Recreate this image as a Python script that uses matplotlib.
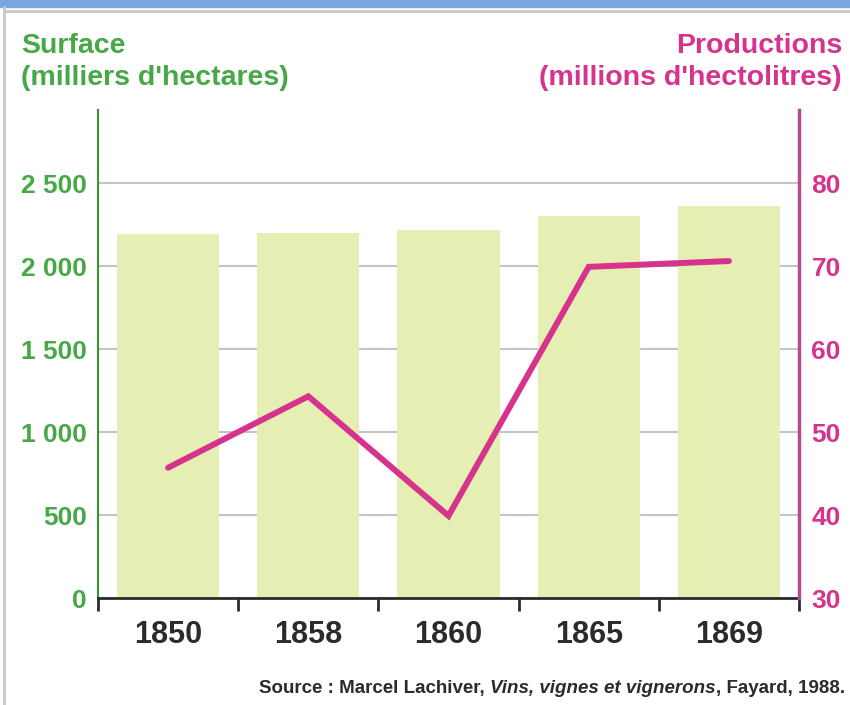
import matplotlib
matplotlib.use("Agg")
import matplotlib.pyplot as plt
from matplotlib.patches import Rectangle
from matplotlib.lines import Line2D

# === Data ===
years = ['1850', '1858', '1860', '1865', '1869']
surface = [2190, 2200, 2220, 2300, 2360]          # milliers d'hectares
production = [45.7, 54.3, 39.9, 69.9, 70.6]        # millions d'hectolitres

left_ticks = [0, 500, 1000, 1500, 2000, 2500]
left_labels = ['0', '500', '1 000', '1 500', '2 000', '2 500']
right_ticks = [30, 40, 50, 60, 70, 80]
right_labels = ['30', '40', '50', '60', '70', '80']

# === Colours ===
GREEN = '#47a846'
GREEN_AXIS = '#3d8f3a'
PINK = '#d6338c'
PINK_AXIS = '#b34d93'
BAR = '#e5efb3'
GRID = '#c4c4c4'
DARK = '#2b2b2b'

FONT = ['Liberation Sans', 'DejaVu Sans']

fig = plt.figure(figsize=(8.5, 7.05), dpi=100)

# screenshot frame: blue band on top, thin grey border
fig.patches.append(Rectangle((0, 1 - 7 / 705), 1, 7 / 705, transform=fig.transFigure,
                             color='#7aa7de', zorder=0))
fig.lines.append(Line2D([4 / 850, 4 / 850], [0, 1 - 7 / 705], transform=fig.transFigure,
                        color='#c8c8c8', lw=2))
fig.lines.append(Line2D([4 / 850, 1], [1 - 11 / 705, 1 - 11 / 705], transform=fig.transFigure,
                        color='#c8c8c8', lw=2))

ax = fig.add_axes([98 / 850, 1 - 598 / 705, (799 - 98) / 850, (598 - 110) / 705])
x = list(range(len(years)))

ax.bar(x, surface, width=0.73, color=BAR, zorder=2)
ax.set_xlim(-0.5, len(years) - 0.5)
ax.set_ylim(0, 2940)
ax.set_axisbelow(True)
ax.yaxis.grid(True, color=GRID, lw=1.5, zorder=0)
ax.set_yticks(left_ticks)
ax.set_yticklabels(left_labels, color=GREEN, fontweight='bold', fontsize=19, family=FONT)
ax.tick_params(axis='y', length=0, pad=8)

ax.set_xticks(x)
ax.set_xticklabels(years, color=DARK, fontweight='bold', fontsize=22, family=FONT)
ax.tick_params(axis='x', which='major', length=0, pad=16)
ax.set_xticks([i - 0.5 for i in range(len(years) + 1)], minor=True)
ax.tick_params(axis='x', which='minor', length=9, width=2, color=DARK, direction='out')

for s in ['top', 'right']:
    ax.spines[s].set_visible(False)
ax.spines['left'].set_color(GREEN_AXIS)
ax.spines['left'].set_linewidth(1.5)
ax.spines['bottom'].set_color(DARK)
ax.spines['bottom'].set_linewidth(2)
ax.spines['bottom'].set_zorder(5)

# production line on the right axis
ax2 = ax.twinx()
ax2.plot(x, production, color=PINK, lw=4.3, solid_capstyle='round',
         solid_joinstyle='miter', zorder=4)
ax2.set_ylim(30, 30 + 2940 / 50)
ax2.set_yticks(right_ticks)
ax2.set_yticklabels(right_labels, color=PINK, fontweight='bold', fontsize=19, family=FONT)
ax2.tick_params(axis='y', length=0, pad=9)
for s in ['top', 'left', 'bottom']:
    ax2.spines[s].set_visible(False)
ax2.spines['right'].set_color(PINK_AXIS)
ax2.spines['right'].set_linewidth(2.5)

# axis titles (baseline of the second line)
fig.text(21 / 850, 1 - 85 / 705, "Surface\n(milliers d'hectares)", color=GREEN,
         fontsize=20.5, fontweight='bold', family=FONT, ha='left', va='baseline',
         linespacing=1.3)
fig.text(842 / 850, 1 - 85 / 705, "Productions\n(millions d'hectolitres)", color=PINK,
         fontsize=20.5, fontweight='bold', family=FONT, ha='right', va='baseline',
         linespacing=1.3, multialignment='right')

# source line, pieces chained from the right
t3 = fig.text(845 / 850, 1 - 693 / 705, ", Fayard, 1988.", color=DARK, fontsize=13.5,
              fontweight='bold', family=FONT, ha='right', va='baseline')
t2 = fig.add_artist(plt.Annotation("Vins, vignes et vignerons", xy=(0, 0), xycoords=t3,
                                   ha='right', va='bottom', color=DARK, fontsize=13.5,
                                   fontweight='bold', style='italic', family=FONT))
t1 = fig.add_artist(plt.Annotation("Source : Marcel Lachiver, ", xy=(0, 0), xycoords=t2,
                                   ha='right', va='bottom', color=DARK, fontsize=13.5,
                                   fontweight='bold', family=FONT))

fig.savefig('out.png', dpi=100)
